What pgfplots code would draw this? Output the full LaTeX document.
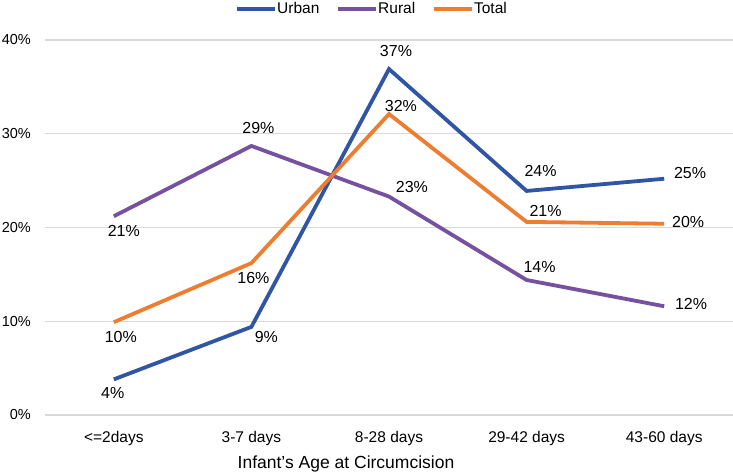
\documentclass[border=0pt]{standalone}
\usepackage{fontspec}
\setmainfont{Liberation Sans}
\usepackage{pgfplots}
\usepackage{pgfplotstable}
\pgfplotsset{compat=1.18}

\definecolor{urbanc}{HTML}{2F55A4}
\definecolor{ruralc}{HTML}{7551A0}
\definecolor{totalc}{HTML}{ED7D31}
\definecolor{gridc}{HTML}{D9D9D9}

% x  y  label offset (dx, dy)
\pgfplotstableread{
x y dx dy
0 3.8 -1 -14
1 9.4 15 -10
2 36.9 7 18
3 23.9 14 20
4 25.2 26 6
}\urbantab
\pgfplotstableread{
x y dx dy
0 21.2 10 -15
1 28.7 7 18
2 23.3 23 10
3 14.4 13 13
4 11.6 27 2
}\ruraltab
\pgfplotstableread{
x y dx dy
0 9.9 7 -15
1 16.2 2 -15
2 32.1 12 8
3 20.6 19 11
4 20.4 24 2
}\totaltab

\pgfplotsset{
  lbl/.style={
    point meta=explicit,
    nodes near coords={\pgfmathprintnumber[fixed,precision=0,assume math mode=true]{\pgfplotspointmeta}\%},
    visualization depends on={\thisrow{dx} \as \labdx},
    visualization depends on={\thisrow{dy} \as \labdy},
    every node near coord/.append style={anchor=center, inner sep=0pt, xshift=\labdx, yshift=\labdy,
      text=black, font=\fontsize{16bp}{18bp}\selectfont},
  },
}

\begin{document}
\begin{tikzpicture}
\begin{axis}[
  scale only axis,
  width=688bp, height=375bp,
  xmin=-0.5, xmax=4.5,
  ymin=0, ymax=40,
  clip=false,
  axis line style={draw=none},
  tick style={draw=none},
  xtick={0,1,2,3,4},
  xticklabels={{<=2days},{3-7 days},{8-28 days},{29-42 days},{43-60 days}},
  ytick={0,10,20,30,40},
  yticklabels={0\%,10\%,20\%,30\%,40\%},
  ymajorgrids,
  major grid style={draw=gridc, line width=1.2bp},
  xticklabel style={font=\fontsize{15.5bp}{17bp}\selectfont, anchor=base, inner sep=0pt, yshift=-27bp},
  yticklabel style={font=\fontsize{14.5bp}{17bp}\selectfont, anchor=east, inner sep=0pt, xshift=-14bp},
  xlabel={Infant's Age at Circumcision},
  xlabel style={at={(axis description cs:0.4375,0)}, anchor=base, yshift=-53bp, font=\fontsize{17.5bp}{20bp}\selectfont},
  legend columns=3,
  legend style={at={(axis description cs:0.474,1)}, anchor=south, yshift=24bp, draw=none, fill=none,
    inner sep=0pt, font=\fontsize{15.5bp}{18bp}\selectfont,
    /tikz/every even column/.append style={column sep=16bp},
    nodes={inner sep=0.5bp}},
  legend image code/.code={\draw[#1, line width=3.8bp] (0bp,0bp) -- (38bp,0bp);},
  every axis plot/.append style={line width=3.8bp, no marks},
]
\addplot[urbanc, lbl] table[x=x,y=y,meta=y] {\urbantab};
\addplot[ruralc, lbl] table[x=x,y=y,meta=y] {\ruraltab};
\addplot[totalc, lbl] table[x=x,y=y,meta=y] {\totaltab};
\legend{Urban,Rural,Total}
\end{axis}
\pgfresetboundingbox
\path[use as bounding box] (current axis.south west) ++(-45bp,-57bp) rectangle ([yshift=40bp]current axis.north east);
\end{tikzpicture}
\end{document}
